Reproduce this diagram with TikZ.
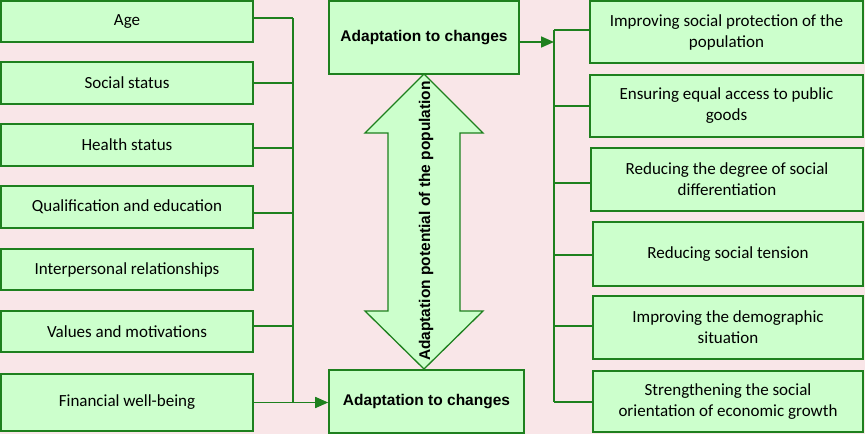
\documentclass[tikz,border=0pt]{standalone}
\usepackage{fontspec}
\setmainfont{Carlito}
\newfontfamily\boldsans{Liberation Sans}
\usetikzlibrary{arrows.meta,calc}
\definecolor{bgpink}{RGB}{249,230,232}
\definecolor{boxfill}{RGB}{204,255,204}
\definecolor{gline}{RGB}{30,128,30}
\begin{document}
\begin{tikzpicture}[x=1pt,y=-1pt,
  box/.style={draw=gline,fill=boxfill,line width=1.6pt,inner sep=0pt,align=center,
    font=\fontsize{17}{21}\selectfont},
  bbox/.style={box,font=\boldsans\bfseries\fontsize{15.5}{18}\selectfont},
  conn/.style={draw=gline,line width=1.6pt},
  arr/.style={conn,-{Triangle[length=13pt,width=11pt]}}]
\fill[bgpink] (0,0) rectangle (865,434);
\useasboundingbox (0,0) rectangle (865,434);
% left column
\node[box,minimum width=252,minimum height=41] (age) at (127,21.5) {Age};
\node[box,minimum width=252,minimum height=42] (soc) at (127,83) {Social status};
\node[box,minimum width=252,minimum height=42] (hea) at (127,145) {Health status};
\node[box,minimum width=252,minimum height=42] (qua) at (127,207) {Qualification and education};
\node[box,minimum width=252,minimum height=41] (int) at (127,269.5) {Interpersonal relationships};
\node[box,minimum width=252,minimum height=41] (val) at (127,331.5) {Values and motivations};
\node[box,minimum width=252,minimum height=57] (fin) at (127,402.5) {Financial well-being};
% centre boxes
\node[bbox,minimum width=190,minimum height=73] (top) at (424,37.5) {Adaptation to changes};
\node[bbox,minimum width=195,minimum height=63] (bot) at (426.5,401.5) {Adaptation to changes};
% right column
\node[box,minimum width=273,minimum height=62] (r1) at (726.5,32) {Improving social protection of the\\population};
\node[box,minimum width=273,minimum height=62] (r2) at (726.5,106) {Ensuring equal access to public\\goods};
\node[box,minimum width=272,minimum height=63] (r3) at (727,179.5) {Reducing the degree of social\\differentiation};
\node[box,minimum width=270,minimum height=64] (r4) at (728,254) {Reducing social tension};
\node[box,minimum width=270,minimum height=63] (r5) at (728,327.5) {Improving the demographic\\situation};
\node[box,minimum width=270,minimum height=61] (r6) at (728,401.5) {Strengthening the social\\orientation of economic growth};
% left bus
\coordinate (lbt) at (293,18);
\coordinate (lbb) at (293,402);
\draw[conn] (lbt) -- (lbb);
\draw[conn] ([yshift=3.5pt]age.east) -- (lbt);
\draw[conn] (soc.east) -- (soc.east -| lbt);
\draw[conn] ([yshift=-3pt]hea.east) -- ([yshift=-3pt]hea.east -| lbt);
\draw[conn] ([yshift=-6pt]qua.east) -- ([yshift=-6pt]qua.east -| lbt);
\draw[conn] ([yshift=5.5pt]val.east) -- ([yshift=5.5pt]val.east -| lbt);
\draw[arr] (fin.east) -- (fin.east -| bot.west);
% right bus
\coordinate (rbt) at (554,30);
\coordinate (rbb) at (554,402);
\draw[arr] ([yshift=-4.5pt]top.east) -- ([yshift=-4.5pt]top.east -| rbt);
\draw[conn] (rbt) -- (rbb);
\draw[conn] (rbt) -- ([yshift=2pt]r1.west);
\draw[conn] (r2.west -| rbt) -- (r2.west);
\draw[conn] ([yshift=-3.5pt]r3.west -| rbt) -- ([yshift=-3.5pt]r3.west);
\draw[conn] ([yshift=-1pt]r4.west -| rbt) -- ([yshift=-1pt]r4.west);
\draw[conn] ([yshift=1.5pt]r5.west -| rbt) -- ([yshift=1.5pt]r5.west);
\draw[conn] (rbb) -- ([yshift=-0.5pt]r6.west);
% double arrow
\draw[draw=gline,fill=boxfill,line width=1.3pt]
  (424,74) -- (483,133) -- (460,133) -- (460,311) -- (483,311) -- (424,369)
  -- (365,311) -- (388,311) -- (388,133) -- (365,133) -- cycle;
\node[rotate=90,inner sep=0pt,font=\boldsans\bfseries\fontsize{15.5}{18}\selectfont] (pot) at (426,221)
  {Adaptation potential of the population};
\end{tikzpicture}
\end{document}
